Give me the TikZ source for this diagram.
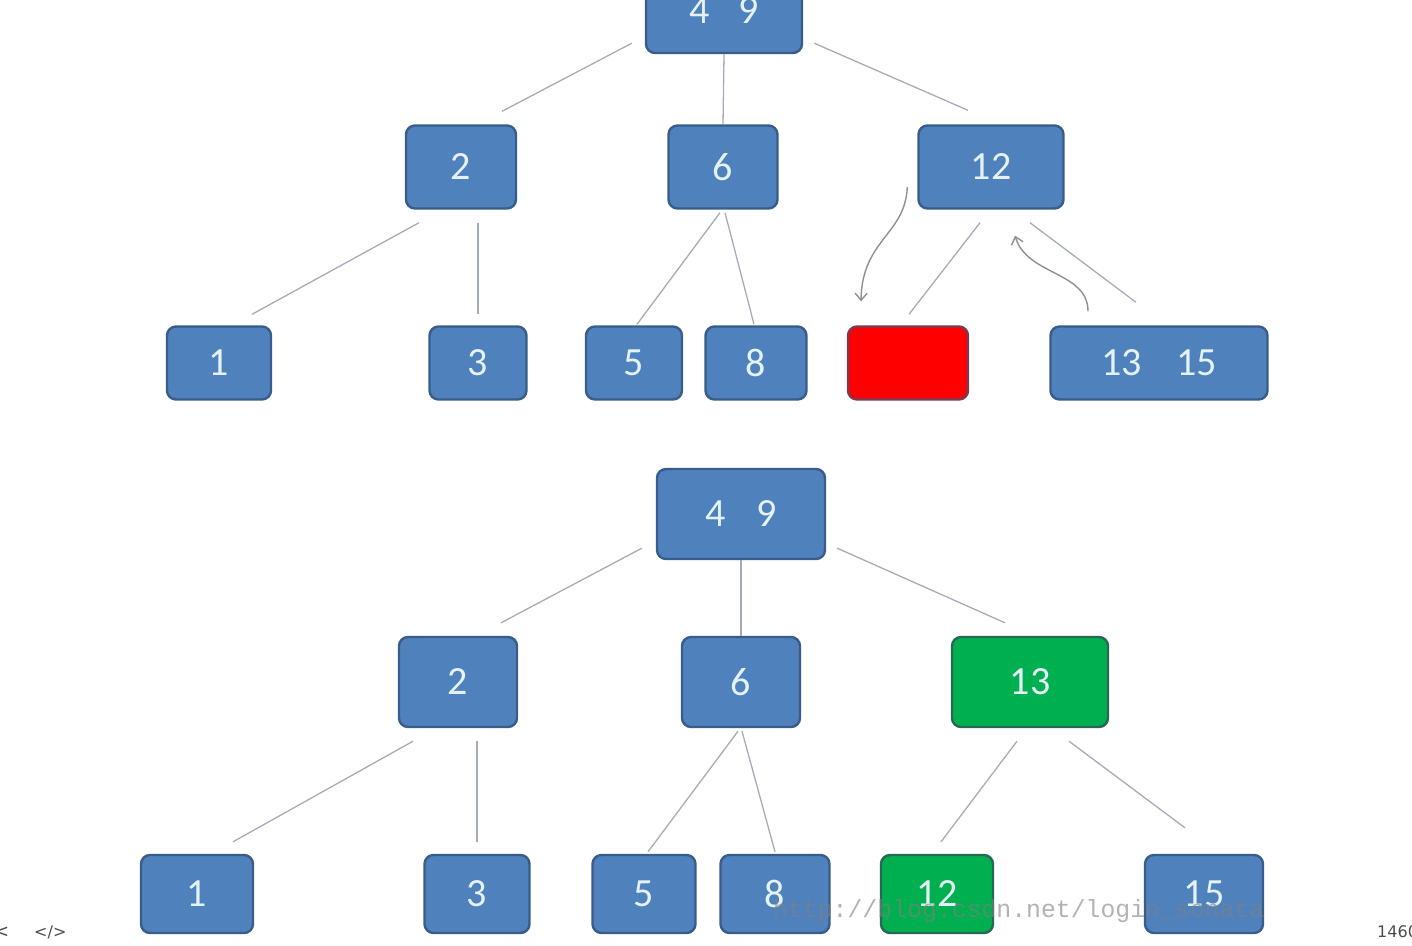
\documentclass[tikz,border=0pt]{standalone}
\usepackage{fontspec}
\setmainfont{Carlito}
\newfontfamily\wmfont{Liberation Mono}
\newfontfamily\uifont{DejaVu Sans}
\usepackage{tikz}
\usetikzlibrary{arrows.meta}
\definecolor{node_blue}{RGB}{79, 129, 189}
\definecolor{node_edge}{RGB}{56, 93, 138}
\definecolor{node_red}{RGB}{255, 0, 0}
\definecolor{red_edge}{RGB}{120, 60, 80}
\definecolor{node_green}{RGB}{0, 176, 80}
\definecolor{green_edge}{RGB}{40, 105, 85}
\definecolor{digit_white}{RGB}{228, 242, 246}
\definecolor{link_gray}{RGB}{165, 172, 184}
\definecolor{arrow_gray}{RGB}{140, 145, 150}
\tikzstyle{bn}=[rectangle,rounded corners=9pt,fill=node_blue,draw=node_edge,
  line width=2.4pt,inner sep=0pt,text=digit_white,font=\fontsize{40}{44}\selectfont]
\tikzstyle{rn}=[bn,fill=node_red,draw=red_edge]
\tikzstyle{gn}=[bn,fill=node_green,draw=green_edge]
\tikzstyle{ln}=[draw=link_gray,line width=1.3pt]
\tikzstyle{arr}=[draw=arrow_gray,line width=1.4pt,-{Straight Barb[length=7pt,width=12pt]}]

\begin{document}
\begin{tikzpicture}[x=1pt,y=-1pt]
    \useasboundingbox (0,0) rectangle (1412,945);
    % upper tree
    \node [style=bn,minimum width=156pt,minimum height=84pt] (t49) at (724,11) {4\hspace{28pt}9};
    \node [style=bn,minimum width=110pt,minimum height=83pt] (t2) at (461,167) {2};
    \node [style=bn,minimum width=109pt,minimum height=83pt] (t6) at (723,167) {6};
    \node [style=bn,minimum width=145pt,minimum height=83pt] (t12) at (991,167) {12};
    \node [style=bn,minimum width=104pt,minimum height=73pt] (t1) at (219,363) {1};
    \node [style=bn,minimum width=97pt,minimum height=73pt] (t3) at (478,363) {3};
    \node [style=bn,minimum width=96pt,minimum height=73pt] (t5) at (634,363) {5};
    \node [style=bn,minimum width=101pt,minimum height=73pt] (t8) at (756,363) {8};
    \node [style=rn,minimum width=120pt,minimum height=73pt] (tempty) at (908,363) {};
    \node [style=bn,minimum width=217pt,minimum height=73pt] (t1315) at (1159,363) {13\hspace{34pt}15};
    \draw [style=ln] ([shift={(-13,-11)}]t49.south west) to ([shift={(41,-13)}]t2.north);
    \draw [style=ln] (t49.south) to (t6.north);
    \draw [style=ln] ([shift={(11,-11)}]t49.south east) to ([shift={(-23,-14)}]t12.north);
    \draw [style=ln] ([shift={(-42,13)}]t2.south) to ([shift={(33,-11)}]t1.north);
    \draw [style=ln] ([shift={(17,13)}]t2.south) to ([shift={(0,-11)}]t3.north);
    \draw [style=ln] ([shift={(-3,3)}]t6.south) to ([shift={(3,-1)}]t5.north);
    \draw [style=ln] ([shift={(2,3)}]t6.south) to ([shift={(-2,-1)}]t8.north);
    \draw [style=ln] ([shift={(-11,13)}]t12.south) to ([shift={(1,-11)}]tempty.north);
    \draw [style=ln] ([shift={(39,13)}]t12.south) to ([shift={(-23,-23)}]t1315.north);
    \draw [style=arr] ([shift={(-10,20)}]t12.west) .. controls +(-2,48) and +(1,-62) .. ([shift={(-47,-24)}]tempty.north);
    \draw [style=arr] ([shift={(-71,-14)}]t1315.north) .. controls +(0,-40) and +(12,40) .. ([shift={(24,26)}]t12.south);
    % lower tree
    \node [style=bn,minimum width=168pt,minimum height=90pt] (b49) at (741,514) {4\hspace{30pt}9};
    \node [style=bn,minimum width=118pt,minimum height=90pt] (b2) at (458,682) {2};
    \node [style=bn,minimum width=118pt,minimum height=90pt] (b6) at (741,682) {6};
    \node [style=gn,minimum width=156pt,minimum height=90pt] (b13) at (1030,682) {13};
    \node [style=bn,minimum width=112pt,minimum height=78pt] (b1) at (197,894) {1};
    \node [style=bn,minimum width=105pt,minimum height=78pt] (b3) at (477,894) {3};
    \node [style=bn,minimum width=103pt,minimum height=78pt] (b5) at (644,894) {5};
    \node [style=bn,minimum width=109pt,minimum height=78pt] (b8) at (775,894) {8};
    \node [style=gn,minimum width=112pt,minimum height=78pt] (b12) at (937,894) {12};
    \node [style=bn,minimum width=118pt,minimum height=78pt] (b15) at (1204,894) {15};
    \draw [style=ln] ([shift={(-14,-12)}]b49.south west) to ([shift={(43,-13)}]b2.north);
    \draw [style=ln] (b49.south) to (b6.north);
    \draw [style=ln] ([shift={(11,-12)}]b49.south east) to ([shift={(-25,-13)}]b13.north);
    \draw [style=ln] ([shift={(-45,13)}]b2.south) to ([shift={(36,-12)}]b1.north);
    \draw [style=ln] ([shift={(19,13)}]b2.south) to ([shift={(0,-12)}]b3.north);
    \draw [style=ln] ([shift={(-3,3)}]b6.south) to ([shift={(4,-2)}]b5.north);
    \draw [style=ln] ([shift={(1,3)}]b6.south) to ([shift={(0,-2)}]b8.north);
    \draw [style=ln] ([shift={(-13,13)}]b13.south) to ([shift={(4,-12)}]b12.north);
    \draw [style=ln] ([shift={(39,13)}]b13.south) to ([shift={(-19,-26)}]b15.north);
    % watermark and page marks
    \node [anchor=base west,inner sep=0pt,text=gray,opacity=0.6,font=\wmfont\fontsize{24.8}{26}\selectfont] (mark) at (773,917) {http://blog.csdn.net/login\_sonata};
    \node [anchor=base west,inner sep=0pt,text=black!70,font=\uifont\fontsize{18}{20}\selectfont] (prev) at (-6,937) {<};
    \node [anchor=base west,inner sep=0pt,text=black!70,font=\uifont\fontsize{16}{20}\selectfont] (code) at (34,937) {</>};
    \node [anchor=base west,inner sep=0pt,text=black!70,font=\uifont\fontsize{16}{20}\selectfont] (count) at (1377,937) {1460};
  \end{tikzpicture}
\end{document}
